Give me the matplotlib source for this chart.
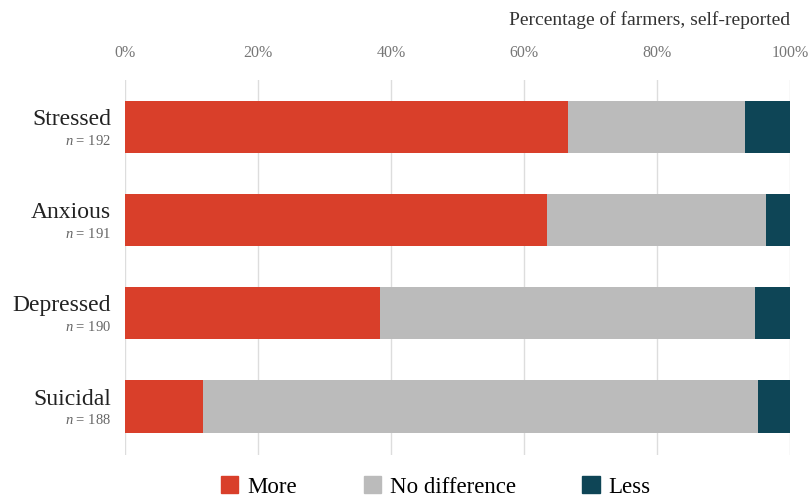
import matplotlib
matplotlib.use("Agg")
import matplotlib.pyplot as plt
from matplotlib.patches import Patch

plt.rcParams['font.family'] = ['Liberation Serif', 'DejaVu Serif']
plt.rcParams['mathtext.fontset'] = 'custom'
plt.rcParams['mathtext.it'] = 'Liberation Serif:italic'
plt.rcParams['mathtext.rm'] = 'Liberation Serif'

# donnees
categories = ["Stressed", "Anxious", "Depressed", "Suicidal"]
counts = [192, 191, 190, 188]
more = [66.6, 63.5, 38.3, 11.7]
no_diff = [26.6, 32.9, 56.4, 83.5]
less = [6.8, 3.6, 5.3, 4.8]
ticks = [0, 20, 40, 60, 80, 100]
tick_labels = ["0%", "20%", "40%", "60%", "80%", "100%"]

c_more = "#D93F2A"
c_same = "#BBBBBB"
c_less = "#0E4556"

fig = plt.figure(figsize=(8.09, 4.97), dpi=100)
ax = fig.add_axes([125 / 809, 1 - 455 / 497, 665 / 809, 375 / 497])

y = list(range(len(categories)))
h = 0.56
ax.barh(y, more, height=h, color=c_more, zorder=2)
ax.barh(y, no_diff, left=more, height=h, color=c_same, zorder=2)
left2 = [a + b for a, b in zip(more, no_diff)]
ax.barh(y, less, left=left2, height=h, color=c_less, zorder=2)

ax.set_xlim(0, 100)
ax.set_ylim(3.52, -0.5)
for t in ticks:
    ax.axvline(t, color="#DDDDDD", lw=1, zorder=1)

ax.xaxis.tick_top()
ax.set_xticks(ticks)
ax.set_xticklabels(tick_labels, color="#777777", fontsize=11.5)
ax.tick_params(axis="x", length=0, pad=14)
ax.set_yticks([])
for s in ax.spines.values():
    s.set_visible(False)

# etiquettes des categories avec n
for i, (cat, n) in enumerate(zip(categories, counts)):
    ax.text(-0.021, i - 0.08, cat, transform=ax.get_yaxis_transform(),
            ha="right", va="center", fontsize=17, color="#222222")
    ax.text(-0.021, i + 0.15, f"$n$ = {n}", transform=ax.get_yaxis_transform(),
            ha="right", va="center", fontsize=10.5, color="#666666")

fig.text(790 / 809, 1 - 20 / 497, "Percentage of farmers, self-reported",
         ha="right", va="center", fontsize=14, color="#333333")

handles = [Patch(color=c_more), Patch(color=c_same), Patch(color=c_less)]
fig.legend(handles, ["More", "No difference", "Less"], loc="center",
           bbox_to_anchor=(436 / 809, 1 - 487 / 497), ncol=3, frameon=False,
           fontsize=16.5, handlelength=0.75, handleheight=0.75, handletextpad=0.4,
           columnspacing=2.9, borderpad=0)

fig.savefig("out.png", dpi=100)
